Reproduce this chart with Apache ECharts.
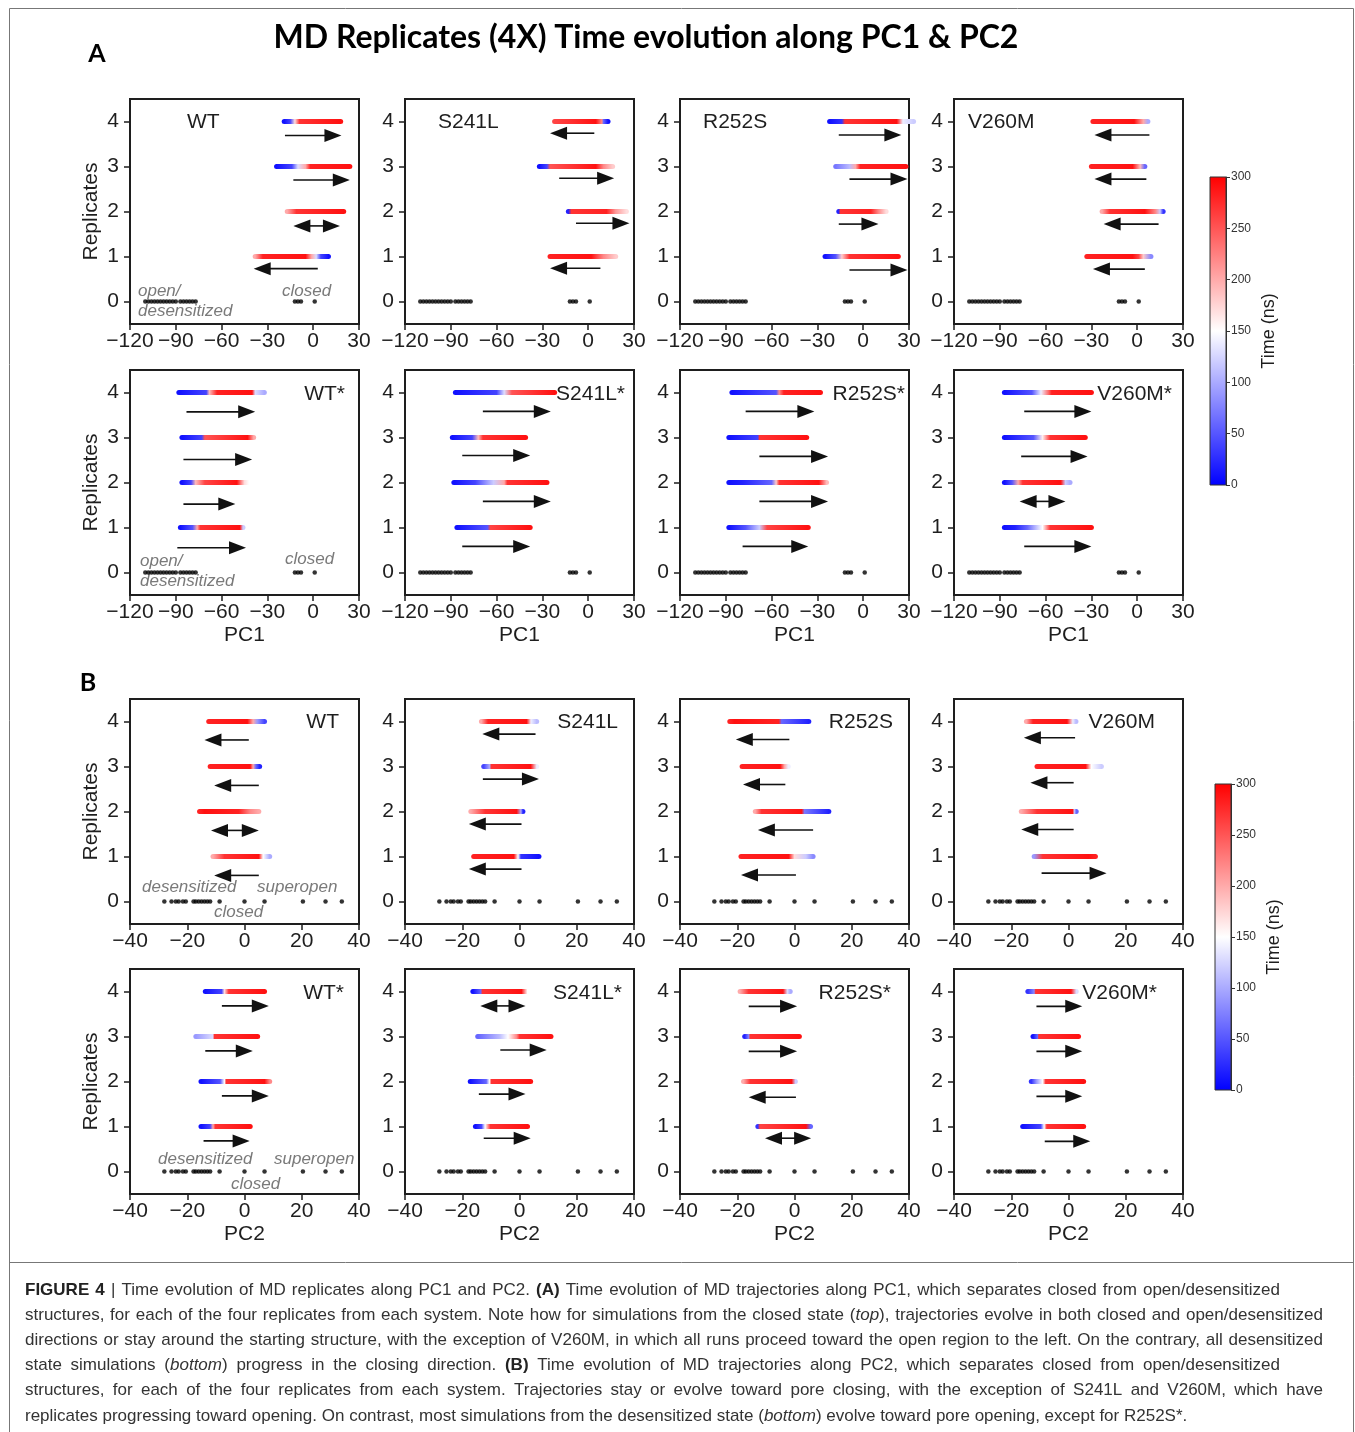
<!DOCTYPE html>
<html>
<head>
<meta charset="utf-8">
<script src="https://cdn.jsdelivr.net/npm/echarts@6/dist/echarts.min.js"></script>
<style>
html, body { margin: 0; padding: 0; background: #fff; }
#chart { width: 1355px; height: 1432px; }
</style>
</head>
<body>
<div id="chart"></div>
<script>
'use strict';
// ---------- data ----------
// each trajectory: list of [PC value, visible time (ns)] going left to right
const repTicks = [0, 1, 2, 3, 4];
const timeStops = [0, 150, 300];
const timeColors = ['#0000ff', '#ffffff', '#ff0000'];
const timeTicks = [0, 300, 50];

const namesA1 = ['WT', 'S241L', 'R252S', 'V260M'];
const namesA2 = ['WT*', 'S241L*', 'R252S*', 'V260M*'];
const namesB1 = ['WT', 'S241L', 'R252S', 'V260M'];
const namesB2 = ['WT*', 'S241L*', 'R252S*', 'V260M*'];

// reference structures (y = 0)
const refPC1 = [-110, -108, -106, -104, -102, -100, -98, -96, -94, -92, -90, -87, -85, -83, -81, -79, -77, -12, -10, -8, 1];
const refPC2 = [-28, -25.5, -24, -23, -21.5, -20.5, -17.8, -17, -16, -15, -14, -13, -12, -8.7, 0, 7, 20.4, 28.3, 34];

const trajA1 = [
  [ [[-38,200],[-33,280],[-5,290],[-1,200],[2,130],[5,40],[10,10]],
    [[-17,200],[-11,270],[20,290]],
    [[-24,10],[-14,40],[-10,130],[-5,200],[-2,280],[24,290]],
    [[-19,10],[-15,40],[-12,170],[-9,270],[18,290]] ],
  [ [[-25,280],[2,290],[10,220],[18,180]],
    [[-13,20],[-11,270],[12,280],[18,210],[25,170]],
    [[-32,10],[-27,40],[-25,250],[5,290],[10,220],[16,180]],
    [[-22,260],[5,290],[9,220],[10,60],[13,10]] ],
  [ [[-25,10],[-18,50],[-14,180],[-9,270],[23,290]],
    [[-16,20],[-15,270],[5,280],[10,220],[15,170]],
    [[-18,70],[-9,110],[-5,200],[-2,280],[28,290]],
    [[-22,10],[-14,30],[-12,270],[22,290],[26,140],[33,120]] ],
  [ [[-33,280],[-3,290],[1,260],[4,180],[9,80]],
    [[-23,200],[-18,270],[5,290],[12,220],[15,120],[17,30]],
    [[-30,280],[-3,290],[2,190],[5,60]],
    [[-29,280],[-2,290],[4,200],[7,100]] ]
];
const trajA2 = [
  [ [[-87,10],[-79,50],[-76,200],[-74,270],[-48,290],[-46,120]],
    [[-86,10],[-80,40],[-77,190],[-71,260],[-50,290],[-45,170],[-42,150]],
    [[-86,10],[-73,40],[-71,250],[-43,290],[-39,200]],
    [[-88,10],[-70,40],[-68,190],[-63,280],[-40,290],[-38,130],[-32,100]] ],
  [ [[-86,10],[-66,50],[-64,260],[-38,290]],
    [[-88,10],[-74,40],[-62,120],[-55,200],[-53,270],[-27,290]],
    [[-89,10],[-76,40],[-72,190],[-69,270],[-41,290]],
    [[-87,10],[-60,40],[-55,130],[-50,250],[-22,290]] ],
  [ [[-88,10],[-77,50],[-68,120],[-63,260],[-36,290]],
    [[-88,10],[-79,20],[-60,60],[-57,180],[-55,270],[-29,290],[-24,190]],
    [[-88,10],[-69,40],[-68,270],[-37,290]],
    [[-86,10],[-57,50],[-55,220],[-52,280],[-28,290]] ],
  [ [[-87,10],[-80,20],[-72,60],[-62,150],[-57,270],[-30,290]],
    [[-87,10],[-82,50],[-78,200],[-75,270],[-50,290],[-47,120],[-44,100]],
    [[-87,10],[-68,50],[-62,160],[-57,270],[-34,290]],
    [[-87,10],[-69,50],[-63,140],[-58,240],[-56,280],[-30,290]] ]
];
const trajB1 = [
  [ [[-11,200],[-7,270],[5,290],[6.5,150],[8.8,100]],
    [[-15.7,280],[-14,290],[-2,280],[2,220],[5,200]],
    [[-12,280],[2,290],[3,200],[4,60],[5.3,20]],
    [[-12.5,280],[1,290],[3,200],[4.5,90],[7,40]] ],
  [ [[-16,280],[-2,290],[-0.5,150],[0.5,30],[6.8,10]],
    [[-17,200],[-12,270],[-1,290],[0.5,100],[1.2,20]],
    [[-12.5,40],[-10.5,100],[-9.8,270],[3.9,290],[6,140]],
    [[-13.3,200],[-11,280],[2.5,290],[4,140],[6,110]] ],
  [ [[-18.7,280],[-2,290],[0,170],[4,120],[6.5,80]],
    [[-13.7,200],[-11.5,270],[2.5,290],[3.5,70],[12,20]],
    [[-18.3,280],[-5,290],[-3.5,200],[-2.2,140]],
    [[-22.6,280],[-21,290],[-5.5,280],[-4.5,60],[5,20]] ],
  [ [[-12,90],[-9,270],[7,290],[9.4,280]],
    [[-16.5,200],[-11,270],[1.5,290],[2,120],[2.7,60]],
    [[-11,280],[6,290],[8,150],[11.5,120]],
    [[-14.7,200],[-12.4,280],[-0.5,290],[1.5,140],[2.6,110]] ]
];
const trajB2 = [
  [ [[-15.2,10],[-12,40],[-11,200],[-10.2,270],[2,290]],
    [[-15.2,10],[-8.5,50],[-7,150],[-6.4,270],[7,290],[8.8,220]],
    [[-17,90],[-11,130],[-10.6,270],[4.6,290]],
    [[-13.7,10],[-8,40],[-7,170],[-5.5,270],[7,290]] ],
  [ [[-15.4,10],[-13.3,40],[-12,150],[-10.2,270],[2.8,290]],
    [[-17.2,10],[-11.6,60],[-10.5,150],[-9.8,270],[3.9,290]],
    [[-14.6,60],[-7,110],[-4,150],[-1,220],[0,270],[11,290]],
    [[-16.3,10],[-13.5,60],[-13,270],[0.7,290],[2.8,150]] ],
  [ [[-12.8,30],[-12.1,260],[4,290],[5.6,60]],
    [[-17.8,200],[-15.5,270],[-1,290],[0.3,120]],
    [[-17.4,20],[-16,80],[-15.5,270],[1.7,290]],
    [[-19,200],[-16,270],[-4,290],[-2.5,130],[-1.5,100]] ],
  [ [[-16,10],[-9.7,40],[-8.5,150],[-7.6,270],[5.3,290]],
    [[-13,30],[-11.2,90],[-9,150],[-8,270],[5.3,290]],
    [[-12.4,10],[-10.8,60],[-10.4,270],[3.5,290]],
    [[-14.2,30],[-12,80],[-11.5,270],[0.9,290],[2.7,130]] ]
];

// arrows: [y, from, to (tip), double-headed]
const arrowsA1 = [
  [[0.73,3,-39,0],[1.68,-13,17.5,1],[2.7,-13,24,0],[3.69,-18.5,18.5,0]],
  [[0.74,8,-25,0],[1.74,-8,27,0],[2.74,-19,17,0],[3.74,4,-25,0]],
  [[0.7,-9,29,0],[1.72,-16,10,0],[2.72,-9,29,0],[3.7,-16,25,0]],
  [[0.72,5,-29,0],[1.72,14,-22,0],[2.72,6,-28,0],[3.7,8,-28,0]]
];
const arrowsA2 = [
  [[0.55,-89,-44,0],[1.52,-85,-51,0],[2.51,-85,-40,0],[3.57,-83,-38,0]],
  [[0.58,-82.5,-38,0],[1.58,-69,-24.5,0],[2.6,-82.5,-38,0],[3.58,-69,-24.5,0]],
  [[0.58,-79,-36,0],[1.58,-68,-23,0],[2.58,-68,-23,0],[3.58,-77,-32,0]],
  [[0.58,-74,-30,0],[1.58,-77,-47,1],[2.58,-76,-32.5,0],[3.58,-74,-30,0]]
];
const arrowsB1 = [
  [[0.58,5,-10.6,0],[1.58,-11.7,5,1],[2.58,5,-10.6,0],[3.59,1.5,-14,0]],
  [[0.72,0.7,-17.7,0],[1.72,0.7,-17.7,0],[2.72,-12.8,6.8,0],[3.72,5.6,-13,0]],
  [[0.59,0.5,-18.7,0],[1.59,6.5,-12.8,0],[2.6,-3.2,-18,0],[3.6,-1.8,-20.5,0]],
  [[0.63,-9.4,13.3,0],[1.6,1.8,-16.5,0],[2.64,1.8,-13.3,0],[3.64,2.3,-15.6,0]]
];
const arrowsB2 = [
  [[0.68,-14.3,1.8,0],[1.68,-7.9,8.5,0],[2.68,-13.7,2.9,0],[3.68,-7.9,8.5,0]],
  [[0.74,-12.5,3.9,0],[1.72,-14.2,2.1,0],[2.7,-6.7,9.5,0],[3.68,-13.7,2.1,1]],
  [[0.74,-10.3,5.8,1],[1.65,0.5,-16,0],[2.67,-16,0.9,0],[3.67,-16,0.9,0]],
  [[0.67,-8.3,7.6,0],[1.67,-11.2,4.8,0],[2.67,-11.2,4.8,0],[3.67,-11.2,4.8,0]]
];

const pc1Range = [-120, 30, 30];
const pc2Range = [-40, 40, 20];

const captionLines = [
  '*FIGURE* *4* | Time evolution of MD replicates along PC1 and PC2. *(A)* Time evolution of MD trajectories along PC1, which separates closed from open/desensitized',
  'structures, for each of the four replicates from each system. Note how for simulations from the closed state (_top_), trajectories evolve in both closed and open/desensitized',
  'directions or stay around the starting structure, with the exception of V260M, in which all runs proceed toward the open region to the left. On the contrary, all desensitized',
  'state simulations (_bottom_) progress in the closing direction. *(B)* Time evolution of MD trajectories along PC2, which separates closed from open/desensitized',
  'structures, for each of the four replicates from each system. Trajectories stay or evolve toward pore closing, with the exception of S241L and V260M, which have',
  'replicates progressing toward opening. On contrast, most simulations from the desensitized state (_bottom_) evolve toward pore opening, except for R252S*.'
];

// ---------- layout ----------
const colLeft = [130, 405, 680, 954];
const rowTop = [99, 370, 699, 969];
const gridW = 229, gridH = 225;
const FONT = '"Liberation Sans", Arial, sans-serif';
const INK = '#1e1e1e';

function timeColor(t) {
  const u = Math.max(0, Math.min(1, t / timeStops[2]));
  const hex = function (h) { return [1, 3, 5].map(function (i) { return parseInt(h.substr(i, 2), 16); }); };
  let a, b, f;
  if (u < 0.5) { a = hex(timeColors[0]); b = hex(timeColors[1]); f = u / 0.5; }
  else { a = hex(timeColors[1]); b = hex(timeColors[2]); f = (u - 0.5) / 0.5; }
  const c = a.map(function (v, i) { return Math.round(v + (b[i] - v) * f); });
  return 'rgb(' + c.join(',') + ')';
}
const minus = function (v) { return v < 0 ? '\u2212' + Math.abs(v) : String(v); };

const chart = echarts.init(document.getElementById('chart'));
const grids = [], xAxes = [], yAxes = [], series = [], graphics = [];

const rows = [
  { traj: trajA1, arrows: arrowsA1, names: namesA1, range: pc1Range, ref: refPC1, axisName: '' },
  { traj: trajA2, arrows: arrowsA2, names: namesA2, range: pc1Range, ref: refPC1, axisName: 'PC1' },
  { traj: trajB1, arrows: arrowsB1, names: namesB1, range: pc2Range, ref: refPC2, axisName: '' },
  { traj: trajB2, arrows: arrowsB2, names: namesB2, range: pc2Range, ref: refPC2, axisName: 'PC2' }
];
// panel name positions [x, y, align]
const nameSpots = [
  [[187, 122, 'left'], [438, 122, 'left'], [703, 122, 'left'], [968, 122, 'left']],
  [[345, 394, 'right'], [625, 394, 'right'], [905, 394, 'right'], [1172, 394, 'right']],
  [[339, 722, 'right'], [618, 722, 'right'], [893, 722, 'right'], [1155, 722, 'right']],
  [[344, 993, 'right'], [622, 993, 'right'], [891, 993, 'right'], [1157, 993, 'right']]
];

rows.forEach(function (row, r) {
  for (let c = 0; c < 4; c++) {
    const g = grids.length;
    grids.push({ left: colLeft[c], top: rowTop[r], width: gridW, height: gridH, show: true,
      borderColor: INK, borderWidth: 2, backgroundColor: 'transparent', outerBoundsMode: 'none' });
    xAxes.push({ type: 'value', gridIndex: g, min: row.range[0], max: row.range[1], interval: row.range[2],
      axisLine: { show: true, onZero: false, lineStyle: { color: INK, width: 2 } },
      axisTick: { show: true, length: 6, lineStyle: { color: INK, width: 1.5 } },
      axisLabel: { formatter: minus, fontSize: 21, color: INK, fontFamily: FONT, margin: 7 },
      splitLine: { show: false },
      name: row.axisName, nameLocation: 'middle', nameGap: 30,
      nameTextStyle: { fontSize: 21, color: INK, fontFamily: FONT } });
    yAxes.push({ type: 'value', gridIndex: g, min: -0.5, max: 4.5,
      axisLine: { show: true, onZero: false, lineStyle: { color: INK, width: 2 } },
      axisTick: { show: true, length: 6, customValues: repTicks, lineStyle: { color: INK, width: 1.5 } },
      axisLabel: { customValues: repTicks, fontSize: 21, color: INK, fontFamily: FONT, margin: 11 },
      splitLine: { show: false },
      name: c === 0 ? 'Replicates' : '', nameLocation: 'middle', nameGap: 28,
      nameTextStyle: { fontSize: 21, color: INK, fontFamily: FONT } });

    const reps = row.traj[c];
    series.push({
      type: 'custom', xAxisIndex: g, yAxisIndex: g, silent: true, z: 3,
      data: reps.map(function (s, k) { return [s[0][0], s[s.length - 1][0], k + 1, k]; }),
      renderItem: function (params, api) {
        const stops = reps[api.value(3)];
        const y = api.value(2);
        const a = api.coord([api.value(0), y]);
        const b = api.coord([api.value(1), y]);
        const x0 = a[0] - 2.5, w = b[0] - a[0] + 5;
        const cs = stops.map(function (s) {
          const px = api.coord([s[0], y])[0];
          return { offset: Math.max(0, Math.min(1, (px - x0) / w)), color: timeColor(s[1]) };
        });
        cs.unshift({ offset: 0, color: cs[0].color });
        cs.push({ offset: 1, color: cs[cs.length - 1].color });
        return { type: 'rect', shape: { x: x0, y: a[1] - 2.5, width: w, height: 5, r: 2.5 },
          style: { fill: new echarts.graphic.LinearGradient(0, 0, 1, 0, cs) } };
      }
    });
    series.push({
      type: 'custom', xAxisIndex: g, yAxisIndex: g, silent: true, z: 4,
      data: row.arrows[c].map(function (a) { return [a[1], a[0], a[2], a[3]]; }),
      renderItem: function (params, api) {
        const y = api.value(1);
        const a = api.coord([api.value(0), y]);
        const b = api.coord([api.value(2), y]);
        const both = api.value(3) === 1;
        const dir = b[0] > a[0] ? 1 : -1;
        const L = 17, H = 6.5;
        const kids = [{ type: 'line',
          shape: { x1: both ? a[0] + dir * L * 0.8 : a[0], y1: a[1], x2: b[0] - dir * L * 0.8, y2: b[1] },
          style: { stroke: '#111', lineWidth: 1.6 } }];
        kids.push({ type: 'polygon', shape: { points: [[b[0], b[1]], [b[0] - dir * L, b[1] - H], [b[0] - dir * L, b[1] + H]] },
          style: { fill: '#111' } });
        if (both) {
          kids.push({ type: 'polygon', shape: { points: [[a[0], a[1]], [a[0] + dir * L, a[1] - H], [a[0] + dir * L, a[1] + H]] },
            style: { fill: '#111' } });
        }
        return { type: 'group', children: kids };
      }
    });
    series.push({ type: 'scatter', xAxisIndex: g, yAxisIndex: g, silent: true, z: 5,
      symbolSize: 4.5, itemStyle: { color: '#000' },
      data: row.ref.map(function (v) { return [v, 0]; }) });

    const ns = nameSpots[r][c];
    graphics.push({ type: 'text', x: ns[0], y: ns[1], silent: true,
      style: { text: row.names[c], fontSize: 21, fontFamily: FONT, fill: INK, align: ns[2], verticalAlign: 'middle' } });
  }
});

// colour bars
[[1210, 177, 308], [1215, 784, 306]].forEach(function (cb) {
  const g = grids.length;
  grids.push({ left: cb[0], top: cb[1], width: 16, height: cb[2], show: false, outerBoundsMode: 'none' });
  xAxes.push({ type: 'value', gridIndex: g, min: 0, max: 1, show: false });
  yAxes.push({ type: 'value', gridIndex: g, min: timeTicks[0], max: timeTicks[1], interval: timeTicks[2], position: 'right',
    axisLine: { show: true, onZero: false, lineStyle: { color: '#333', width: 1 } },
    axisTick: { show: true, length: 4, lineStyle: { color: '#333' } },
    axisLabel: { fontSize: 12, color: '#333', fontFamily: FONT, margin: 5 },
    splitLine: { show: false },
    name: 'Time (ns)', nameLocation: 'middle', nameGap: 34, nameRotate: 90,
    nameTextStyle: { fontSize: 18, color: INK, fontFamily: FONT } });
  series.push({ type: 'custom', xAxisIndex: g, yAxisIndex: g, silent: true,
    data: [[0, timeTicks[0], 1, timeTicks[1]]],
    renderItem: function (params, api) {
      const a = api.coord([api.value(0), api.value(1)]);
      const b = api.coord([api.value(2), api.value(3)]);
      return { type: 'rect', shape: { x: a[0], y: b[1], width: b[0] - a[0], height: a[1] - b[1] },
        style: { stroke: '#333', lineWidth: 1,
          fill: new echarts.graphic.LinearGradient(0, 0, 0, 1, [
            { offset: 0, color: timeColor(timeStops[2]) },
            { offset: 0.5, color: timeColor(timeStops[1]) },
            { offset: 1, color: timeColor(timeStops[0]) }]) } };
    } });
});

// state annotations inside first-column panels
const noteStyle = { fontSize: 17, fontFamily: FONT, fontStyle: 'italic', fill: '#7a7a7a', verticalAlign: 'middle' };
[['open/', 138, 291], ['desensitized', 138, 311], ['closed', 282, 291],
 ['open/', 140, 561], ['desensitized', 140, 581], ['closed', 285, 559],
 ['desensitized', 142, 887], ['superopen', 257, 887], ['closed', 214, 912],
 ['desensitized', 158, 1159], ['superopen', 274, 1159], ['closed', 231, 1184]].forEach(function (n) {
  graphics.push({ type: 'text', x: n[1], y: n[2], silent: true, style: Object.assign({ text: n[0] }, noteStyle) });
});

// title, panel letters, frame
graphics.push({ type: 'text', x: 646, y: 38, style: { text: 'MD Replicates (4X) Time evolution along PC1 & PC2',
  fontSize: 32, fontWeight: 'bold', fontFamily: 'Lato, "DejaVu Sans", sans-serif', fill: '#000', align: 'center', verticalAlign: 'middle' } });
graphics.push({ type: 'text', x: 97, y: 54, style: { text: 'A', fontSize: 25, fontWeight: 'bold', fontFamily: 'Lato, sans-serif', fill: '#000', align: 'center', verticalAlign: 'middle' } });
graphics.push({ type: 'text', x: 88, y: 683, style: { text: 'B', fontSize: 25, fontWeight: 'bold', fontFamily: 'Lato, sans-serif', fill: '#000', align: 'center', verticalAlign: 'middle' } });
graphics.push({ type: 'rect', shape: { x: 9.5, y: 8.5, width: 1344, height: 1440 }, style: { fill: 'none', stroke: '#777', lineWidth: 1 } });
graphics.push({ type: 'line', shape: { x1: 9.5, y1: 1262.5, x2: 1353.5, y2: 1262.5 }, style: { stroke: '#777', lineWidth: 1 } });

// caption, laid out word by word and justified
const ctx = document.createElement('canvas').getContext('2d');
const CAP = 17;
function capFont(st) { return (st === 'i' ? 'italic ' : '') + (st === 'b' ? 'bold ' : '') + CAP + 'px "Liberation Sans"'; }
function measure(txt, st) { ctx.font = capFont(st); return ctx.measureText(txt).width; }
const capEnds = [1280, 1323, 1323, 1280, 1323, null];
const capRich = {
  n: { fontSize: CAP, fontFamily: FONT, fill: '#333' },
  b: { fontSize: CAP, fontFamily: FONT, fill: '#222', fontWeight: 'bold' },
  i: { fontSize: CAP, fontFamily: FONT, fill: '#333', fontStyle: 'italic' }
};
captionLines.forEach(function (line, li) {
  const words = line.split(' ').map(function (w) {
    const segs = w.split(/(\*[^*]+\*|_[^_]+_)/).filter(function (s) { return s.length; }).map(function (s) {
      if (s[0] === '*') return ['b', s.slice(1, -1)];
      if (s[0] === '_') return ['i', s.slice(1, -1)];
      return ['n', s];
    });
    const width = segs.reduce(function (acc, s) { return acc + measure(s[1], s[0]); }, 0);
    return { segs: segs, width: width };
  });
  const total = words.reduce(function (a, w) { return a + w.width; }, 0);
  const left = 25;
  const gap = capEnds[li] ? (capEnds[li] - left - total) / (words.length - 1) : measure(' ', 'n');
  let x = left;
  const y = 1290 + li * 25.2;
  words.forEach(function (w) {
    graphics.push({ type: 'text', x: x, y: y, silent: true,
      style: { text: w.segs.map(function (s) { return '{' + s[0] + '|' + s[1] + '}'; }).join(''),
        rich: capRich, fontSize: CAP, fontFamily: FONT, verticalAlign: 'middle' } });
    x += w.width + gap;
  });
});

chart.setOption({
  animation: false,
  backgroundColor: '#fff',
  grid: grids,
  xAxis: xAxes,
  yAxis: yAxes,
  series: series,
  graphic: graphics
});
window.onresize = chart.resize;
</script>
</body>
</html>
